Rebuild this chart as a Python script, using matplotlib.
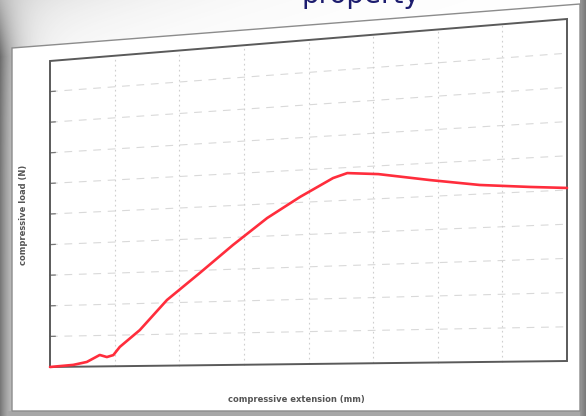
import numpy as np
import matplotlib
matplotlib.use("Agg")
import matplotlib.pyplot as plt
from matplotlib import transforms as mtransforms
from matplotlib.patches import Polygon

# load-extension curve of the compression test
extension_mm = [0.0, 0.36, 0.57, 0.77, 0.88, 0.98, 1.08, 1.39, 1.81, 2.32,
                2.83, 3.36, 3.87, 4.38, 4.60, 5.08, 5.88, 6.65, 7.43, 8.0]
load_n = [0, 6, 15, 37, 30, 36, 62, 115, 209, 292,
          376, 456, 517, 570, 583, 575, 549, 527, 514, 506]

x_ticks = list(range(0, 9))
y_ticks = list(range(0, 1001, 100))
x_max, y_max = x_ticks[-1], y_ticks[-1]

W, H = 586, 416

# the printed sheet is photographed at an angle: corners of the plot box
# in image pixels (y down), order bottom-left, bottom-right, top-left, top-right
box = [(50, 367), (567, 361), (50, 61), (567, 19)]


class SheetTransform(mtransforms.Transform):
    """Bilinear map from data units onto the tilted sheet."""
    input_dims = output_dims = 2
    is_separable = False
    has_inverse = False

    def __init__(self, corners):
        super().__init__()
        self.corners = np.asarray(corners, float)

    def transform_non_affine(self, values):
        values = np.asarray(values, float)
        u = values[:, 0:1] / x_max
        v = values[:, 1:2] / y_max
        bl, br, tl, tr = self.corners
        return ((1 - u) * (1 - v) * bl + u * (1 - v) * br
                + (1 - u) * v * tl + u * v * tr)


fig = plt.figure(figsize=(W / 100, H / 100), dpi=100)
ax = fig.add_axes([0, 0, 1, 1])
ax.set_xlim(0, W)
ax.set_ylim(H, 0)
ax.axis("off")

# slide background: soft shadow on the left, dark rim right and bottom
yy, xx = np.mgrid[0:H, 0:W].astype(float)
shade = np.zeros((H, W, 4))
shade[..., :3] = 0.38
alpha = 0.85 * np.exp(-xx / 16.0) * np.clip(0.3 + yy / 80.0, 0, 1)
alpha += 0.22 * np.exp(-xx / 140.0) * np.exp(-yy / 45.0)
alpha = np.where(xx > 579, 0.62 + 0.25 * (xx - 579) / 7.0, alpha)
alpha = np.where(yy > 410, np.maximum(alpha, 0.55), alpha)
shade[..., 3] = np.clip(alpha, 0, 1)
ax.imshow(shade, extent=[0, W, H, 0], zorder=0, interpolation="bilinear")

# the sheet of paper
ax.add_patch(Polygon([(12, 48), (580, 4), (580, 411), (12, 411)], closed=True,
                     facecolor="white", edgecolor="#8c8c8c", lw=1.0, zorder=2))

# slide title, mostly cut off at the top
ax.text(302, 3, "property", color="#1c1c6e", fontsize=20, ha="left",
        va="baseline", zorder=1)

tr = SheetTransform(box) + ax.transData

for yt in y_ticks[1:-1]:
    ax.plot([0, x_max], [yt, yt], transform=tr, color="#d9d9d9", lw=0.8,
            ls=(0, (7, 6)), zorder=3)
    ax.plot([0, 0.08], [yt, yt], transform=tr, color="#777777", lw=0.9, zorder=4)
for xt in x_ticks[1:-1]:
    ax.plot([xt, xt], [0, y_max], transform=tr, color="#cfcfcf", lw=0.8,
            ls=(0, (1.5, 3)), zorder=3)

ax.plot([0, x_max, x_max, 0, 0], [0, 0, y_max, y_max, 0], transform=tr,
        color="#5a5a5a", lw=1.4, zorder=5, solid_joinstyle="miter")

ax.plot(extension_mm, load_n, transform=tr, color="#ff2d3c", lw=1.9,
        zorder=6, solid_capstyle="round", solid_joinstyle="round")

ax.text(24, 215, "compressive load (N)", rotation=90, ha="center", va="center",
        fontsize=6.0, fontweight="bold", color="#555555", zorder=4)
ax.text(296, 400, "compressive extension (mm)", ha="center", va="center",
        fontsize=6.0, fontweight="bold", color="#555555", zorder=4)

fig.savefig("out.png", dpi=100, facecolor="white")
